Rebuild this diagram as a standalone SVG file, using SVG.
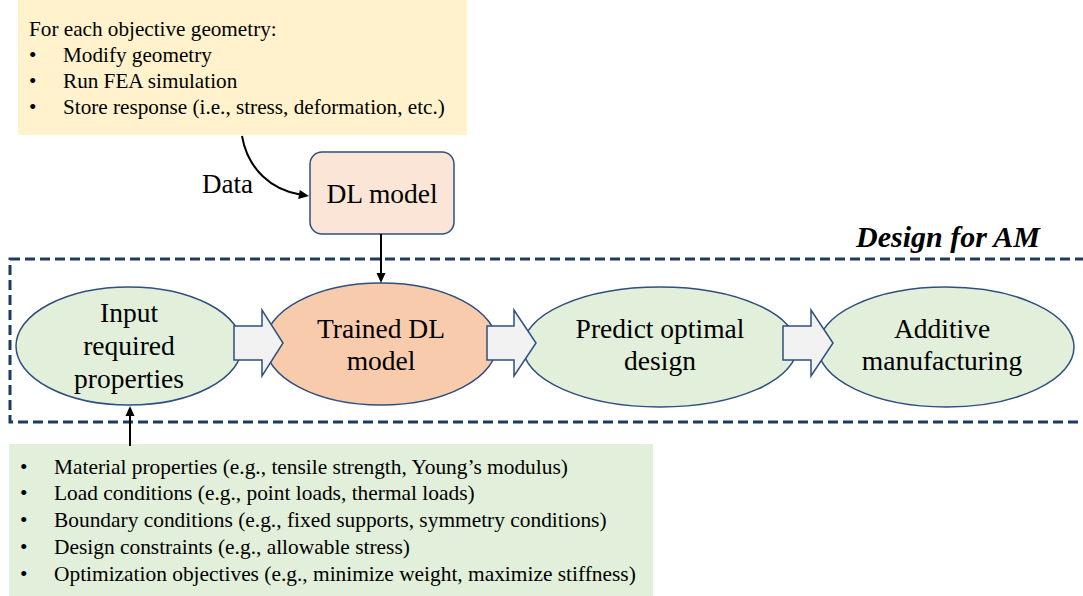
<svg xmlns="http://www.w3.org/2000/svg" width="1083" height="596" viewBox="0 0 1083 596">
<rect width="1083" height="596" fill="#fff"/>

<g id="fea-box" style="font-family:'Liberation Serif','Times New Roman',Tinos,serif;font-size:21.2px">
<rect x="18" y="0" width="449" height="135" fill="#FFF2CC"/>
<text x="29" y="36">For each objective geometry:</text>
<text x="29" y="62">•</text>
<text x="63" y="62">Modify geometry</text>
<text x="29" y="88">•</text>
<text x="63" y="88">Run FEA simulation</text>
<text x="29" y="114">•</text>
<text x="63" y="114">Store response (i.e., stress, deformation, etc.)</text>
</g>

<g id="dl-model" style="font-family:'Liberation Serif','Times New Roman',Tinos,serif;font-size:27.5px" text-anchor="middle">
<rect x="310" y="152" width="144" height="82" rx="12" fill="#FBE5D6" stroke="#2F4F7F" stroke-width="1.5"/>
<text x="382" y="203">DL model</text>
</g>

<g id="design-for-am" style="font-family:'Liberation Serif','Times New Roman',Tinos,serif">
<rect x="10" y="259" width="1090" height="163" fill="none" stroke="#203864" stroke-width="3" stroke-dasharray="10,5"/>
<text x="1040" y="247" font-size="30" font-weight="bold" font-style="italic" text-anchor="end">Design for AM</text>
</g>

<g id="input" style="font-family:'Liberation Serif','Times New Roman',Tinos,serif;font-size:27.5px" text-anchor="middle">
<ellipse cx="129" cy="346" rx="113" ry="59" fill="#E2EFDA" stroke="#2F4F7F" stroke-width="1.5"/>
<text x="129" y="322">Input</text>
<text x="129" y="355">required</text>
<text x="129" y="388">properties</text>
</g>

<g id="trained" style="font-family:'Liberation Serif','Times New Roman',Tinos,serif;font-size:27.5px" text-anchor="middle">
<ellipse cx="381" cy="344" rx="116" ry="61" fill="#F8CBAD" stroke="#2F4F7F" stroke-width="1.5"/>
<text x="381" y="338">Trained DL</text>
<text x="381" y="370">model</text>
</g>

<g id="predict" style="font-family:'Liberation Serif','Times New Roman',Tinos,serif;font-size:27.5px" text-anchor="middle">
<ellipse cx="660" cy="347" rx="137" ry="60" fill="#E2EFDA" stroke="#2F4F7F" stroke-width="1.5"/>
<text x="660" y="338">Predict optimal</text>
<text x="660" y="370">design</text>
</g>

<g id="additive" style="font-family:'Liberation Serif','Times New Roman',Tinos,serif;font-size:27.5px" text-anchor="middle">
<ellipse cx="946" cy="347" rx="128" ry="60" fill="#E2EFDA" stroke="#2F4F7F" stroke-width="1.5"/>
<text x="942" y="338">Additive</text>
<text x="942" y="370">manufacturing</text>
</g>

<g id="requirements" style="font-family:'Liberation Serif','Times New Roman',Tinos,serif;font-size:21.4px">
<rect x="9" y="444" width="644" height="152" fill="#E2EFDA"/>
<text x="20" y="474">•</text>
<text x="54" y="474">Material properties (e.g., tensile strength, Young’s modulus)</text>
<text x="20" y="500">•</text>
<text x="54" y="500">Load conditions (e.g., point loads, thermal loads)</text>
<text x="20" y="527">•</text>
<text x="54" y="527">Boundary conditions (e.g., fixed supports, symmetry conditions)</text>
<text x="20" y="554">•</text>
<text x="54" y="554">Design constraints (e.g., allowable stress)</text>
<text x="20" y="581">•</text>
<text x="54" y="581">Optimization objectives (e.g., minimize weight, maximize stiffness)</text>
</g>

<g id="connectors">
<path d="M242,136 C248,170 272,190 300,194.5" stroke="#000" stroke-width="2" fill="none"/>
<polygon points="309,196 298.2,198.9 299.8,189.9" fill="#000"/>
<text x="202" y="193" style="font-family:'Liberation Serif','Times New Roman',Tinos,serif;font-size:27px">Data</text>
<line x1="381" y1="234" x2="381" y2="274" stroke="#000" stroke-width="2"/>
<polygon points="381,283 376.5,273 385.5,273" fill="#000"/>
<line x1="130" y1="446" x2="130" y2="415" stroke="#000" stroke-width="2"/>
<polygon points="130,406 125.5,416 134.5,416" fill="#000"/>
<path d="M234,326 L262,326 L262,310 L283,343 L262,376 L262,360 L234,360 z" fill="#F2F2F2" stroke="#2F4F7F" stroke-width="1.5"/>
<path d="M487,326 L514,326 L514,310 L536,343 L514,376 L514,360 L487,360 z" fill="#F2F2F2" stroke="#2F4F7F" stroke-width="1.5"/>
<path d="M783,326 L811,326 L811,310 L833,343 L811,376 L811,360 L783,360 z" fill="#F2F2F2" stroke="#2F4F7F" stroke-width="1.5"/>
</g>
</svg>
